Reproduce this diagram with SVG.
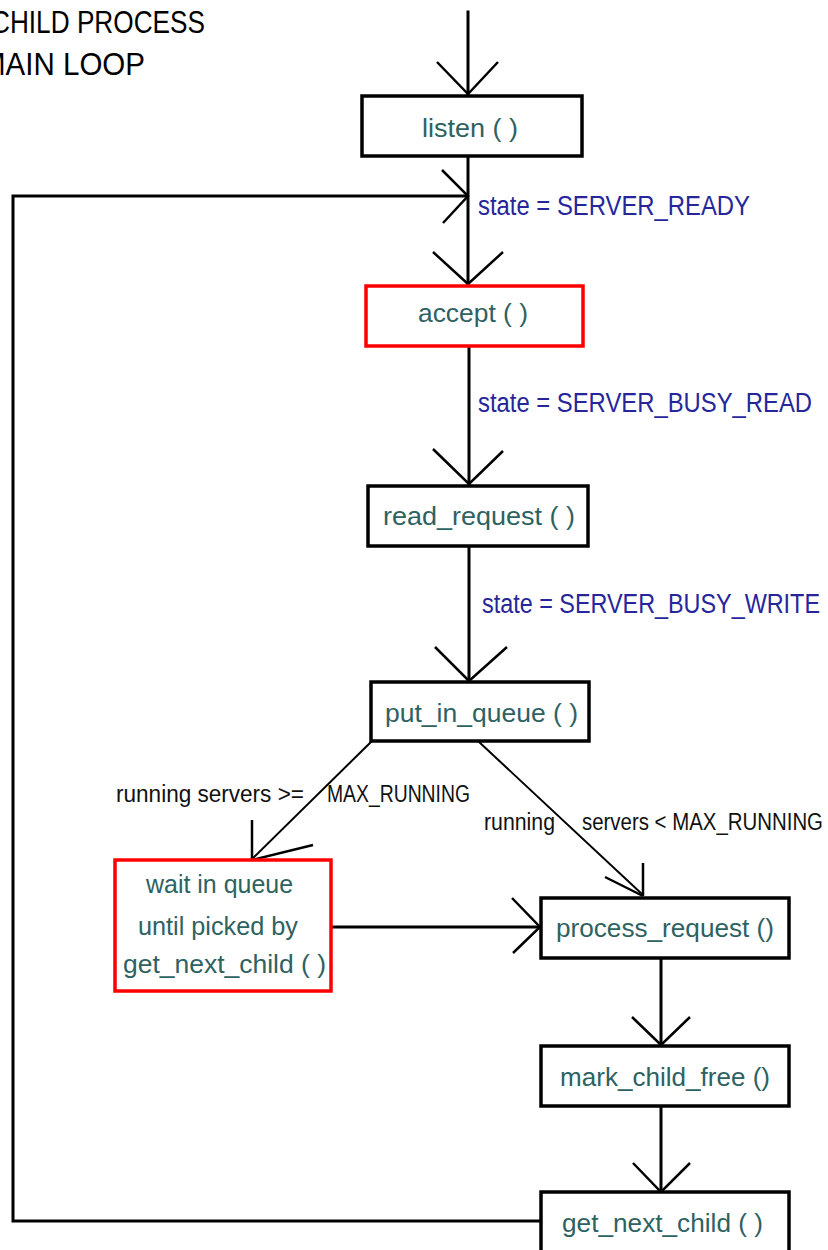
<svg xmlns="http://www.w3.org/2000/svg" width="828" height="1250" viewBox="0 0 828 1250">
  <style>
    .box { fill: #ffffff; stroke: #000000; stroke-width: 3.5; }
    .hot { fill: #ffffff; stroke: #ff0000; stroke-width: 3.5; }
    .lbl { font-family: "Liberation Sans", Arial, sans-serif; font-size: 25px; fill: #2e6262; }
    .state { font-family: "Liberation Sans", Arial, sans-serif; font-size: 27px; fill: #26269a; }
    .cond { font-family: "Liberation Sans", Arial, sans-serif; font-size: 23px; fill: #111111; }
    .title { font-family: "Liberation Sans", Arial, sans-serif; font-size: 31px; fill: #000000; }
    .wire { fill: none; stroke: #000000; stroke-width: 3; stroke-linecap: square; }
    .thin { fill: none; stroke: #000000; stroke-width: 2; }
    .head { fill: none; stroke: #000000; stroke-width: 2.5; }
  </style>

  <!-- heading -->
  <g id="title">
    <text class="title" x="-9" y="33" textLength="214" lengthAdjust="spacingAndGlyphs">CHILD PROCESS</text>
    <text class="title" x="-19" y="75" textLength="164" lengthAdjust="spacingAndGlyphs">MAIN LOOP</text>
  </g>

  <!-- connectors -->
  <g id="connectors">
    <!-- entry into listen -->
    <line class="wire" x1="468" y1="12" x2="468" y2="94"/>
    <polyline class="head" points="437,62 468,94 498,62"/>

    <!-- listen -> accept -->
    <line class="wire" x1="468" y1="157" x2="468" y2="284"/>
    <polyline class="head" points="433,252 468,284 503,252"/>

    <!-- loop back from get_next_child into accept path -->
    <polyline class="wire" points="540,1221 13,1221 13,196 466,196"/>
    <polyline class="head" points="442,170 468,196 443,223"/>

    <!-- accept -> read_request -->
    <line class="wire" x1="469" y1="347" x2="469" y2="484"/>
    <polyline class="head" points="433,449 469,484 503,451"/>

    <!-- read_request -> put_in_queue -->
    <line class="wire" x1="469" y1="547" x2="469" y2="681"/>
    <polyline class="head" points="435,647 469,681 507,647"/>

    <!-- put_in_queue -> wait in queue -->
    <line class="thin" x1="372" y1="741" x2="252" y2="859"/>
    <line class="head" x1="252" y1="820" x2="252" y2="860"/>
    <line class="head" x1="313" y1="845" x2="252" y2="860"/>

    <!-- put_in_queue -> process_request -->
    <line class="thin" x1="478" y1="741" x2="643" y2="895"/>
    <line class="head" x1="643" y1="863" x2="643" y2="896"/>
    <line class="head" x1="605" y1="877" x2="643" y2="896"/>

    <!-- wait in queue -> process_request -->
    <line class="wire" x1="332" y1="927" x2="539" y2="927"/>
    <polyline class="head" points="512,898 540,927 513,953"/>

    <!-- process_request -> mark_child_free -->
    <line class="wire" x1="661" y1="958" x2="661" y2="1045"/>
    <polyline class="head" points="632,1017 661,1045 690,1017"/>

    <!-- mark_child_free -> get_next_child -->
    <line class="wire" x1="661" y1="1107" x2="661" y2="1192"/>
    <polyline class="head" points="633,1163 661,1192 690,1163"/>

    <!-- transition labels -->
    <text class="state" x="478" y="215" textLength="272" lengthAdjust="spacingAndGlyphs">state = SERVER_READY</text>
    <text class="state" x="478" y="412" textLength="334" lengthAdjust="spacingAndGlyphs">state = SERVER_BUSY_READ</text>
    <text class="state" x="482" y="613" textLength="338" lengthAdjust="spacingAndGlyphs">state = SERVER_BUSY_WRITE</text>
    <text class="cond" x="116" y="802" textLength="188" lengthAdjust="spacingAndGlyphs">running servers &gt;=</text>
    <text class="cond" x="327" y="802" textLength="143" lengthAdjust="spacingAndGlyphs">MAX_RUNNING</text>
    <text class="cond" x="484" y="830" textLength="71" lengthAdjust="spacingAndGlyphs">running</text>
    <text class="cond" x="582" y="830" textLength="241" lengthAdjust="spacingAndGlyphs">servers &lt; MAX_RUNNING</text>
  </g>

  <!-- nodes -->
  <g id="listen">
    <rect class="box" x="362" y="96" width="220" height="60"/>
    <text class="lbl" x="422" y="137" textLength="96" lengthAdjust="spacingAndGlyphs">listen ( )</text>
  </g>

  <g id="accept">
    <rect class="hot" x="366" y="286" width="217" height="60"/>
    <text class="lbl" x="418" y="322" textLength="110" lengthAdjust="spacingAndGlyphs">accept ( )</text>
  </g>

  <g id="read_request">
    <rect class="box" x="368" y="486" width="220" height="60"/>
    <text class="lbl" x="383" y="525" textLength="192" lengthAdjust="spacingAndGlyphs">read_request ( )</text>
  </g>

  <g id="put_in_queue">
    <rect class="box" x="371" y="682" width="218" height="59"/>
    <text class="lbl" x="385" y="722" textLength="193" lengthAdjust="spacingAndGlyphs">put_in_queue ( )</text>
  </g>

  <g id="wait_in_queue">
    <rect class="hot" x="115" y="860" width="216" height="131"/>
    <text class="lbl" x="146" y="893" textLength="147" lengthAdjust="spacingAndGlyphs">wait in queue</text>
    <text class="lbl" x="138" y="935" textLength="160" lengthAdjust="spacingAndGlyphs">until picked by</text>
    <text class="lbl" x="123" y="973" textLength="203" lengthAdjust="spacingAndGlyphs">get_next_child ( )</text>
  </g>

  <g id="process_request">
    <rect class="box" x="541" y="898" width="248" height="60"/>
    <text class="lbl" x="556" y="937" textLength="218" lengthAdjust="spacingAndGlyphs">process_request ()</text>
  </g>

  <g id="mark_child_free">
    <rect class="box" x="541" y="1046" width="248" height="60"/>
    <text class="lbl" x="560" y="1086" textLength="210" lengthAdjust="spacingAndGlyphs">mark_child_free ()</text>
  </g>

  <g id="get_next_child">
    <rect class="box" x="541" y="1192" width="248" height="70"/>
    <text class="lbl" x="562" y="1232" textLength="201" lengthAdjust="spacingAndGlyphs">get_next_child ( )</text>
  </g>
</svg>
